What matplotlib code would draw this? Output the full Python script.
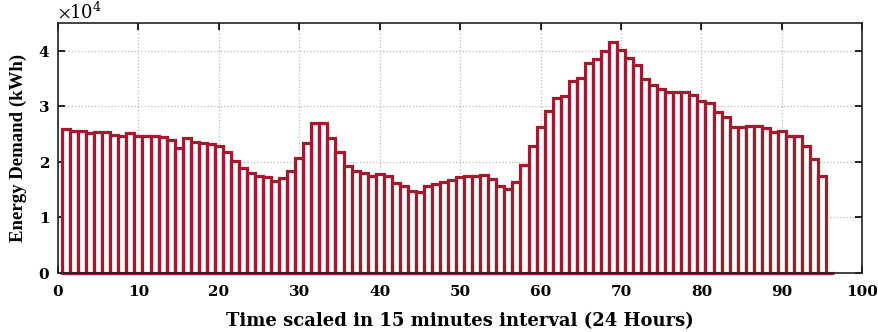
import matplotlib
matplotlib.use("Agg")
import matplotlib.pyplot as plt
from matplotlib.ticker import ScalarFormatter

# Energy demand for each 15 minute slot of the day (kWh)
slots = list(range(1, 97))
demand = [
    25900, 25500, 25600, 25200, 25400, 25400, 24900, 24600, 25100, 24700,
    24700, 24700, 24400, 23900, 22500, 24200, 23500, 23400, 23200, 22900,
    21700, 20200, 18900, 18000, 17500, 17200, 16600, 17000, 18400, 20700,
    23400, 27000, 27000, 24200, 21700, 19300, 18400, 18000, 17500, 17800,
    17500, 16200, 15600, 14800, 14500, 15700, 16000, 16300, 16800, 17200,
    17400, 17500, 17700, 16900, 15600, 15100, 16300, 19500, 22900, 26200,
    29100, 31500, 31800, 34500, 35000, 37800, 38500, 39900, 41500, 40100,
    38700, 37400, 34900, 33900, 33100, 32500, 32600, 32500, 32100, 30900,
    30500, 28900, 28000, 26200, 26200, 26400, 26400, 26100, 25300, 25600,
    24600, 24600, 22900, 20500, 17400, 0,
]

bar_red = "#a31a2e"
wide_serif = ["DejaVu Serif"]
narrow_serif = ["Liberation Serif", "DejaVu Serif"]

plt.rcParams["font.family"] = wide_serif
plt.rcParams["mathtext.fontset"] = "stix"

fig = plt.figure(figsize=(8.79, 3.32), dpi=100)
ax = fig.add_axes([0.066, 0.178, 0.915, 0.753])

ax.bar(slots, demand, width=1.0, facecolor="white", edgecolor=bar_red,
       linewidth=2.3, zorder=3, clip_on=False)

ax.set_xlim(0, 100)
ax.set_ylim(0, 45000)
ax.set_xticks(range(0, 101, 10))
ax.set_yticks([0, 10000, 20000, 30000, 40000])

fmt = ScalarFormatter(useMathText=True)
fmt.set_powerlimits((0, 0))
ax.yaxis.set_major_formatter(fmt)
off = ax.yaxis.get_offset_text()
off.set_fontsize(13)
off.set_fontweight("normal")

ax.grid(True, color="#b8b8b8", linestyle=":", linewidth=0.9, zorder=0)
ax.set_axisbelow(True)

for s in ax.spines.values():
    s.set_linewidth(1.2)
    s.set_color("#222222")
    s.set_zorder(4)

ax.tick_params(direction="in", length=5, width=1.2, top=True, right=True,
               labelsize=11, pad=6)
ax.tick_params(axis="x", pad=9)
for lbl in ax.get_xticklabels() + ax.get_yticklabels():
    lbl.set_fontweight("bold")

ax.set_xlabel("Time scaled in 15 minutes interval (24 Hours)",
              fontsize=13, fontweight="bold", labelpad=9)
ax.set_ylabel("Energy Demand (kWh)", fontsize=13.5, fontweight="bold",
              family=narrow_serif, labelpad=8)

fig.savefig("out.png", dpi=100)
